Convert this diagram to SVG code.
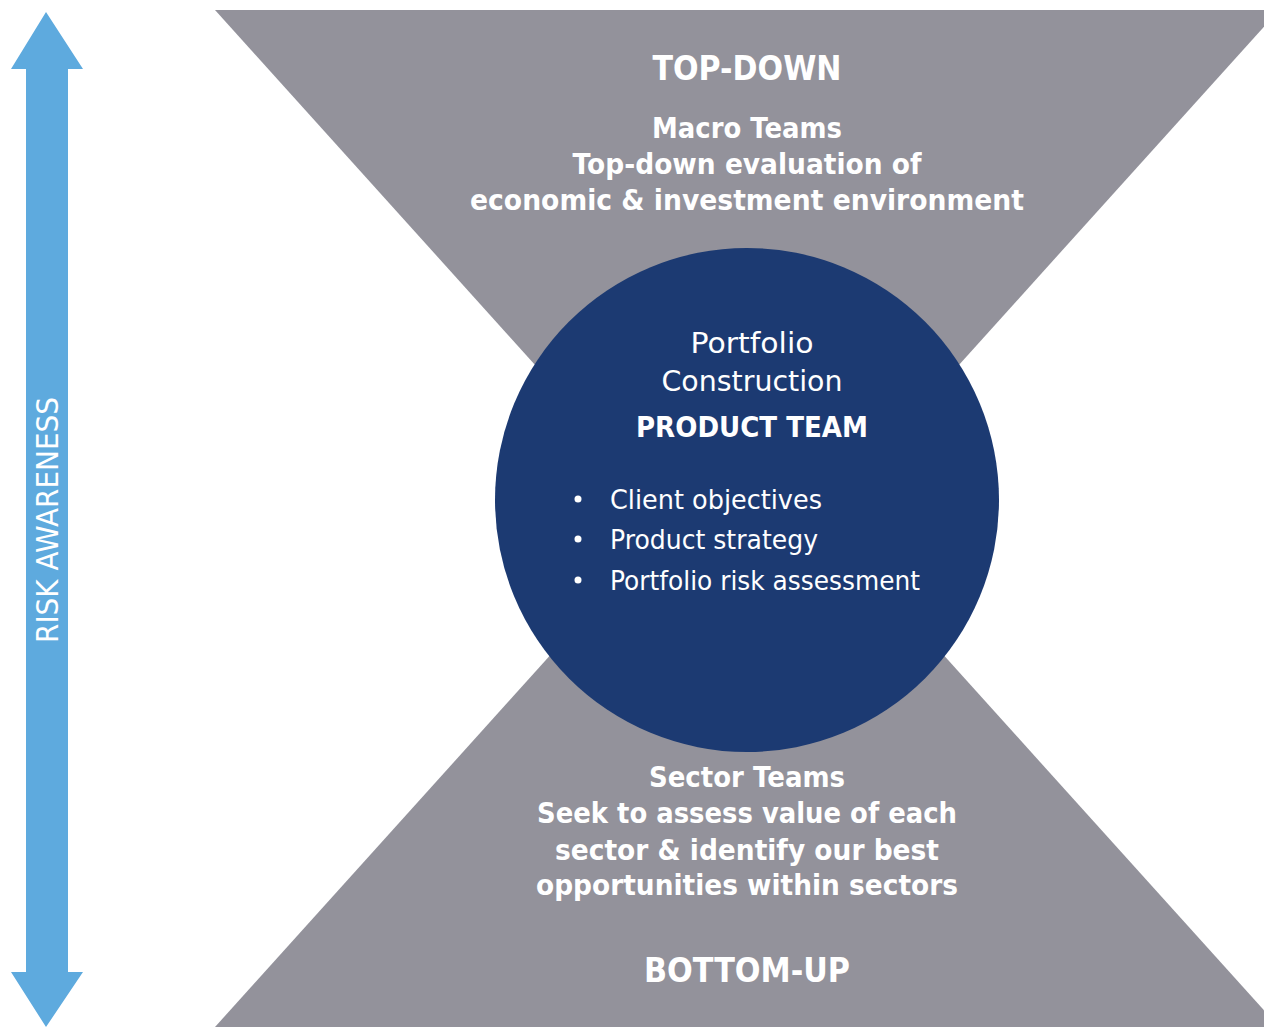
<svg xmlns="http://www.w3.org/2000/svg" width="1264" height="1027" viewBox="0 0 1264 1027">
<style>
.t{font-family:"DejaVu Sans","Liberation Sans",sans-serif;fill:#ffffff;text-anchor:middle}
.b{font-weight:bold}
.l{text-anchor:start}
.g{fill:#93929b}
</style>
<rect width="1264" height="1027" fill="#ffffff"/>
<g id="top-down">
<polygon class="g" points="215,10 1279,10 747,600"/>
<text class="t b" x="747" y="80" font-size="34" textLength="189" lengthAdjust="spacingAndGlyphs">TOP-DOWN</text>
<text class="t b" x="747" y="138" font-size="29" textLength="190" lengthAdjust="spacingAndGlyphs">Macro Teams</text>
<text class="t b" x="747" y="174" font-size="29" textLength="349" lengthAdjust="spacingAndGlyphs">Top-down evaluation of</text>
<text class="t b" x="747" y="210" font-size="29" textLength="554" lengthAdjust="spacingAndGlyphs">economic &amp; investment environment</text>
</g>
<g id="bottom-up">
<polygon class="g" points="215,1027 1279,1027 747,437"/>
</g>
<g id="product-team">
<circle cx="747" cy="500" r="252" fill="#1c3a72"/>
<text class="t" x="752" y="353" font-size="29" textLength="123" lengthAdjust="spacingAndGlyphs">Portfolio</text>
<text class="t" x="752" y="391" font-size="29" textLength="181" lengthAdjust="spacingAndGlyphs">Construction</text>
<text class="t b" x="752" y="437" font-size="29" textLength="232" lengthAdjust="spacingAndGlyphs">PRODUCT TEAM</text>
<circle cx="578" cy="499" r="3.5" fill="#ffffff"/>
<circle cx="578" cy="539" r="3.5" fill="#ffffff"/>
<circle cx="578" cy="580" r="3.5" fill="#ffffff"/>
<text class="t l" x="610" y="509" font-size="27" textLength="212" lengthAdjust="spacingAndGlyphs">Client objectives</text>
<text class="t l" x="610" y="549" font-size="27" textLength="208" lengthAdjust="spacingAndGlyphs">Product strategy</text>
<text class="t l" x="610" y="590" font-size="27" textLength="310" lengthAdjust="spacingAndGlyphs">Portfolio risk assessment</text>
</g>
<g id="bottom-text">
<text class="t b" x="747" y="787" font-size="29" textLength="196" lengthAdjust="spacingAndGlyphs">Sector Teams</text>
<text class="t b" x="747" y="823" font-size="29" textLength="420" lengthAdjust="spacingAndGlyphs">Seek to assess value of each</text>
<text class="t b" x="747" y="860" font-size="29" textLength="384" lengthAdjust="spacingAndGlyphs">sector &amp; identify our best</text>
<text class="t b" x="747" y="895" font-size="29" textLength="422" lengthAdjust="spacingAndGlyphs">opportunities within sectors</text>
<text class="t b" x="747" y="982" font-size="34" textLength="206" lengthAdjust="spacingAndGlyphs">BOTTOM-UP</text>
</g>
<g id="risk-awareness">
<polygon fill="#5eaade" points="46,12 83,69 68,69 68,972 83,972 46,1027 11,972 26,972 26,69 11,69"/>
<text class="t" transform="translate(58,520) rotate(-90)" x="0" y="0" font-size="30" textLength="246" lengthAdjust="spacingAndGlyphs">RISK AWARENESS</text>
</g>
<g id="connectors"></g>
</svg>
